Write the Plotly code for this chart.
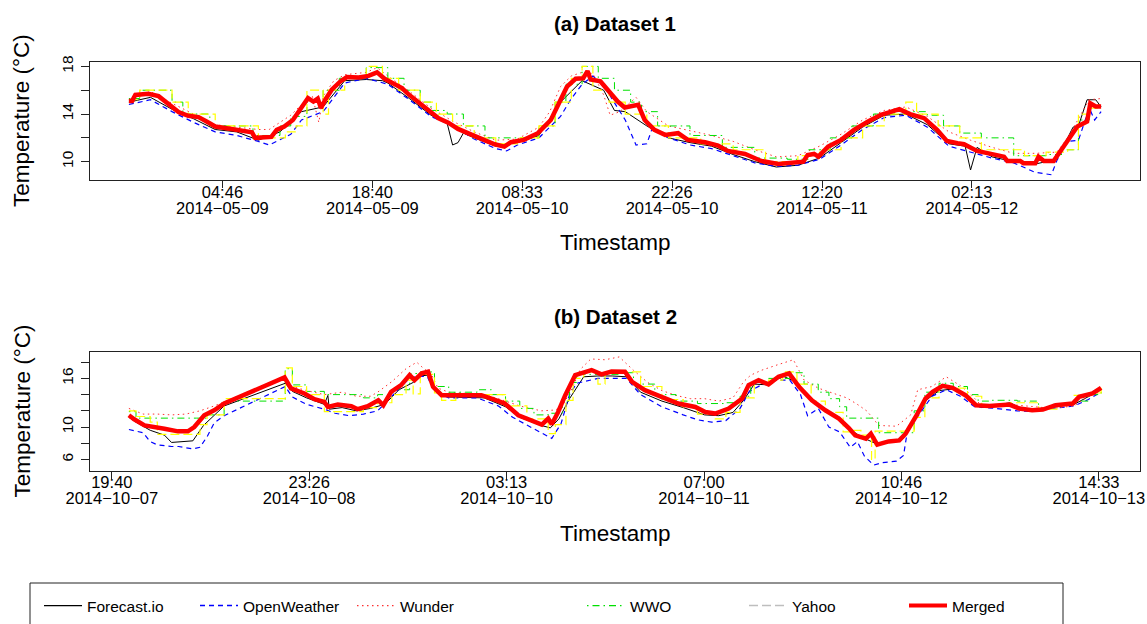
import pandas as pd
import plotly.graph_objects as go

FONT = "Liberation Sans, Arial, Helvetica, sans-serif"
W, H = 1147, 624

# ---------------- Dataset 1 (May 2014) ----------------
d1_start = "2014-05-08 20:06"

d1_merged_h = [0, 0.3, 0.6, 1.8, 2.75, 3.7, 4.6, 5.5, 6.45, 7.2, 8.0, 9.5, 11.4, 11.7, 13.2, 13.7,
               14.4, 15.2, 16.0, 16.6, 17.1, 17.5, 17.8, 18.2, 18.8, 19.6, 20.2, 21.3, 22.2, 23.0,
               23.7, 24.5, 25.3, 25.9, 26.8, 27.7, 28.7, 29.6, 30.5, 31.8, 33.0, 33.9, 34.8, 35.4,
               36.6, 37.9, 39.1, 39.9, 40.6, 41.4, 42.1, 42.5, 42.8, 43.7, 44.7, 45.3, 45.95, 47.2,
               47.8, 48.7, 49.7, 50.9, 51.8, 53.4, 54.6, 55.5, 57.1, 58.6, 60.2, 61.4, 62.5, 62.9,
               63.5, 63.9, 64.8, 66.0, 67.2, 68.5, 69.7, 70.9, 71.4, 72.4, 73.7, 74.9, 75.8, 76.8,
               77.4, 78.6, 80.1, 81.1, 81.4, 82.6, 82.9, 84.0, 84.3, 84.8, 85.7, 86.3, 87.3, 87.9,
               88.8, 89.1, 89.6, 90.1]
d1_merged_t = [15.1, 15.1, 15.6, 15.7, 15.5, 14.8, 14.16, 13.85, 13.74, 13.37, 12.95, 12.75, 12.47, 12.0,
               12.08, 12.67, 12.95, 13.5, 14.5, 15.34, 15.05, 15.3, 14.5, 15.2, 16.04, 16.74, 17.1, 17.07,
               17.2, 17.5, 16.96, 16.6, 16.18, 15.67, 15.05, 14.35, 13.65, 13.28, 12.75, 12.25, 11.83,
               11.46, 11.26, 11.63, 11.83, 12.39, 13.5, 15.05, 16.3, 16.96, 17.0, 17.6, 16.9, 16.74, 15.6,
               15.05, 14.55, 14.77, 13.5, 12.67, 12.25, 12.39, 11.83, 11.63, 11.35, 10.9, 10.65, 10.06,
               9.8, 9.86, 10.0, 10.56, 10.65, 10.42, 11.26, 11.83, 12.67, 13.37, 13.93, 14.27, 14.41,
               13.99, 13.65, 12.67, 11.74, 11.55, 11.46, 10.9, 10.62, 10.42, 10.06, 10.06, 9.87, 9.87,
               10.42, 10.06, 10.06, 10.84, 12.25, 12.95, 13.37, 14.9, 14.63, 14.63]

d1_forecast_h = [0, 2, 4, 6, 8, 10, 12, 14, 16, 18, 20, 22, 23.5, 24, 26, 28, 29.5, 30, 30.5, 31, 32, 34,
                 36, 38, 40, 42, 44, 45, 46, 48, 50, 52, 54, 56, 58, 60, 62, 64, 66, 68, 70, 72, 74, 76,
                 77.5, 78, 78.6, 80, 82, 84, 86, 87.5, 88, 88.8, 89.6, 90.1]
d1_forecast_t = [15.0, 15.4, 14.4, 13.6, 12.7, 12.5, 11.8, 12.5, 14.2, 14.6, 16.8, 16.9, 16.8, 16.6, 15.3,
                 13.9, 13.2, 11.4, 11.6, 12.4, 12.0, 11.3, 11.6, 12.2, 15.0, 16.8, 16.0, 14.3, 14.2, 13.0,
                 12.0, 11.6, 11.3, 10.6, 10.0, 9.55, 9.7, 10.3, 11.6, 12.9, 13.9, 14.0, 13.1, 11.5, 11.3,
                 9.3, 11.2, 10.4, 10.0, 9.8, 10.2, 12.9, 13.0, 15.2, 15.2, 14.6]

d1_openw_h = [0, 2, 4, 6, 8, 10, 12, 13, 15, 16, 18, 20, 22, 24, 26, 28, 30, 32, 34, 35, 36, 38, 40, 41,
              42, 43, 44, 45, 46, 47, 48, 48.5, 50, 52, 54, 56, 58, 60, 62, 64, 66, 68, 70, 72, 74, 76,
              78, 80, 82, 84, 85.5, 86, 87, 88, 89, 89.5, 90.1]
d1_openw_t = [14.8, 15.2, 14.2, 13.3, 12.5, 12.2, 11.7, 11.4, 12.3, 13.5, 14.2, 16.6, 17.0, 16.5, 15.2,
              13.8, 13.0, 11.9, 11.1, 10.9, 11.4, 12.0, 13.8, 15.3, 16.5, 17.2, 16.4, 15.0, 13.5, 11.4,
              11.5, 12.8, 12.0, 11.4, 11.1, 10.5, 9.9, 9.6, 9.7, 10.2, 11.4, 12.7, 13.7, 13.9, 12.9, 11.3,
              10.8, 10.3, 9.9, 9.1, 8.9, 10.1, 11.7, 11.8, 14.5, 13.5, 14.2]

d1_wunder_h = [0, 2, 4, 6, 8, 10, 12, 13, 14, 15, 16, 17, 17.6, 18, 19, 20, 22, 23, 24, 26, 28, 30, 32,
               34, 36, 38, 39, 40, 41, 42, 43, 44, 44.6, 45.5, 47, 48, 50, 52, 54, 56, 58, 60, 62, 64,
               66, 68, 70, 72, 74, 76, 78, 80, 82, 84, 86, 87, 88, 89, 90.1]
d1_wunder_t = [15.2, 15.9, 14.9, 14.0, 13.1, 12.9, 12.7, 12.7, 13.3, 13.9, 14.8, 15.5, 13.3, 15.5, 16.8,
               17.3, 17.5, 17.9, 17.2, 15.9, 14.5, 13.4, 12.5, 11.8, 11.9, 12.9, 14.2, 16.3, 17.2, 17.5,
               17.4, 15.6, 13.9, 14.2, 15.4, 14.2, 13.0, 12.6, 12.2, 11.7, 11.0, 10.4, 10.5, 11.3, 12.3,
               13.5, 14.3, 14.6, 13.8, 12.5, 11.8, 11.2, 10.7, 10.7, 10.8, 12.0, 13.6, 15.2, 15.3]

d1_wwo_h = [0, 1, 4, 5, 7.5, 11.5, 14, 15, 16.5, 18, 19.5, 22, 24, 25.5, 27, 28, 29.5, 31, 33, 36, 38,
            39.5, 40.5, 42, 43.5, 45, 46.5, 47.5, 49, 52, 55, 58, 61, 63, 65, 67, 69, 71, 74, 75.5, 77,
            79, 82, 85, 86.5, 88, 89, 90.1]
d1_wwo_t = [15.3, 16.0, 15.0, 14.0, 13.0, 12.2, 13.0, 13.8, 15.0, 16.0, 17.0, 17.9, 17.0, 16.0, 15.0,
            14.3, 14.0, 13.0, 12.0, 12.0, 13.0, 15.0, 16.5, 18.0, 17.0, 16.0, 15.0, 14.2, 13.0, 12.2,
            11.2, 10.3, 10.2, 11.0, 12.0, 13.0, 14.0, 14.2, 13.9, 13.0, 12.4, 12.0, 10.5, 10.6, 11.0,
            13.5, 14.8, 14.8]

d1_yahoo_h = [0, 1, 4, 5.5, 8, 12, 14.5, 15.5, 16.5, 18, 18.5, 20, 22, 23.5, 25, 27, 28.5, 30, 32, 34,
              36, 38, 39.5, 41, 42, 43, 44.5, 46, 48, 50, 53, 56, 59, 62, 64, 66, 68, 70, 72, 73, 75,
              77, 79, 83, 85, 87, 88, 89, 90.1]
d1_yahoo_t = [15.2, 16.0, 15.0, 14.0, 13.0, 12.0, 12.5, 13.0, 16.0, 14.0, 16.0, 17.0, 18.0, 17.0, 16.0,
              15.0, 14.0, 13.0, 12.0, 11.5, 12.0, 13.0, 15.0, 17.0, 18.0, 16.0, 15.0, 14.0, 13.0, 12.0,
              11.5, 11.0, 10.0, 10.5, 11.0, 12.0, 13.0, 14.0, 15.0, 14.0, 13.0, 12.0, 11.0, 10.5, 10.8,
              11.0, 14.0, 14.5, 14.5]

d1_tick_times = ["2014-05-09 04:46", "2014-05-09 18:40", "2014-05-10 08:33",
                 "2014-05-10 22:26", "2014-05-11 12:20", "2014-05-12 02:13"]

# ---------------- Dataset 2 (October 2014) ----------------
d2_start = "2014-10-07 22:04"

d2_merged_h = [0, 0.75, 2.2, 4.0, 5.0, 6.9, 8.3, 9.2, 10.6, 12.0, 13.4, 21.9, 22.8, 24.7, 26.1, 27.5,
               28.0, 29.4, 31.3, 32.2, 33.6, 35.1, 35.8, 36.9, 38.3, 39.5, 40.2, 41.2, 42.1, 42.8, 44.0,
               46.3, 49.6, 51.0, 52.9, 54.8, 56.7, 58.1, 59.0, 59.5, 60.4, 61.4, 62.8, 64.2, 65.1, 66.5,
               67.9, 69.8, 70.8, 72.6, 75.0, 77.3, 79.7, 81.1, 82.5, 84.4, 86.3, 87.2, 88.6, 90.0, 91.4,
               92.9, 94.3, 96.1, 98.0, 99.9, 101.3, 102.2, 103.7, 104.4, 105.3, 106.9, 108.4, 109.3,
               110.7, 112.1, 113.1, 114.5, 115.9, 117.7, 119.2, 121.1, 123.9, 125.3, 127.1, 128.6,
               130.4, 132.8, 133.7, 135.6, 136.8]
d2_merged_t = [11.45, 10.96, 10.2, 10.0, 9.8, 9.47, 9.47, 10.0, 11.45, 12.07, 12.9, 16.12, 14.76, 14.14,
               13.43, 13.1, 12.48, 12.77, 12.57, 12.2, 12.57, 13.31, 12.69, 14.34, 15.17, 16.41, 15.79,
               16.62, 16.82, 14.96, 13.93, 13.93, 13.93, 13.52, 12.9, 11.45, 10.83, 10.3, 11.04, 10.34,
               11.86, 13.93, 16.41, 16.82, 17.03, 16.49, 16.85, 16.82, 15.58, 14.55, 13.72, 12.9, 12.48,
               11.86, 11.66, 12.28, 13.52, 15.17, 15.79, 15.26, 16.2, 16.62, 14.96, 13.31, 12.07, 11.04,
               9.88, 8.97, 8.56, 9.18, 7.82, 8.23, 8.35, 9.18, 11.24, 13.52, 14.34, 15.08, 14.84, 13.93,
               12.69, 12.6, 12.77, 12.28, 12.07, 12.16, 12.69, 12.9, 13.72, 14.14, 14.84]

d2_forecast_h = [0, 1, 3, 5, 6, 9, 10.5, 12, 13.4, 22, 23, 25, 27.5, 28, 28.2, 30, 32, 34, 36, 38, 40,
                 41, 42, 43, 45, 50, 53, 55, 58, 59.3, 60.5, 62, 64, 66, 68, 70, 72, 75, 78, 81, 83, 85,
                 86.5, 88, 90, 92, 94, 96, 98, 100, 101.5, 103, 105, 107, 109, 110.5, 112, 114, 116, 118,
                 120, 124, 125.5, 128, 131, 133, 135, 136.8]
d2_forecast_t = [11.2, 10.6, 9.6, 9.0, 8.1, 8.3, 10.2, 11.4, 12.6, 15.4, 14.4, 13.6, 12.8, 13.9, 12.2,
                 12.4, 12.0, 12.3, 12.8, 14.6, 15.5, 16.3, 16.4, 14.5, 13.7, 13.6, 12.5, 11.2, 10.2, 9.9,
                 11.0, 13.5, 16.2, 16.3, 16.3, 16.2, 14.3, 13.2, 12.4, 11.5, 11.4, 11.8, 13.3, 15.3, 15.2,
                 16.3, 15.5, 13.5, 12.0, 11.2, 9.7, 8.8, 8.0, 8.2, 8.6, 11.0, 13.2, 14.5, 14.7, 13.7, 12.4,
                 13.0, 12.3, 12.1, 12.6, 12.8, 13.8, 14.6]

d2_openw_h = [0, 2, 3, 4, 6, 7, 9, 10, 11, 12, 13.4, 22, 23, 25, 27.5, 29, 31, 33, 35, 37, 39, 40.5, 42,
              43, 45, 49, 52, 54, 56, 58, 59.5, 60.8, 62, 63, 66, 70, 72, 75, 78, 80, 82, 84, 86, 87.3,
              89, 91, 93, 94.5, 95.5, 97, 98.5, 100, 101.5, 102.5, 103.5, 104.8, 106, 108, 109, 109.6,
              111, 113, 115, 117, 119, 122, 125, 127, 130, 133, 135, 136.8]
d2_openw_t = [9.7, 9.3, 8.2, 7.8, 7.6, 7.6, 7.3, 7.5, 8.8, 10.5, 11.4, 15.0, 13.7, 12.8, 12.2, 11.7,
              11.4, 11.6, 12.0, 13.8, 15.6, 16.3, 16.2, 14.4, 13.6, 13.6, 12.6, 11.2, 10.2, 9.3, 8.6,
              10.4, 14.0, 15.4, 16.0, 16.0, 14.0, 12.5, 11.5, 10.9, 10.6, 10.8, 12.3, 14.4, 15.2, 15.8,
              15.8, 14.0, 11.4, 12.3, 10.0, 9.4, 7.5, 8.2, 6.4, 5.3, 5.6, 5.8, 6.5, 9.8, 11.3, 13.8,
              14.6, 13.8, 12.5, 12.3, 12.0, 11.9, 12.3, 12.6, 13.4, 14.3]

d2_wunder_h = [0, 2, 4, 6, 8, 10, 12, 13.4, 22, 23, 25, 27.5, 30, 32, 34, 35, 37, 39, 40.5, 41.5, 42.5,
               43.5, 45, 50, 52, 55, 58, 60, 61, 62.5, 63.5, 65, 67, 69, 71, 73, 75, 77, 79, 81, 83, 85,
               86.5, 87.5, 89, 91, 93.5, 95, 97, 99, 101, 102.5, 103.8, 104.3, 105.5, 108, 110, 111, 113,
               115, 117, 118.5, 120, 125, 130, 133, 135, 136.8]
d2_wunder_t = [12.3, 11.6, 11.6, 11.5, 11.6, 12.0, 12.6, 13.1, 16.2, 15.0, 14.5, 14.0, 14.3, 13.8, 13.8,
               14.3, 15.6, 17.2, 18.0, 17.2, 16.6, 14.8, 14.3, 14.0, 13.5, 12.6, 12.0, 12.1, 12.6, 15.0,
               17.1, 18.4, 18.3, 18.65, 17.0, 15.5, 14.5, 13.9, 13.5, 13.5, 13.2, 13.6, 15.6, 16.4, 17.0,
               17.6, 18.3, 15.8, 14.8, 14.2, 13.6, 12.8, 12.0, 11.5, 10.2, 10.1, 11.5, 14.6, 15.0, 16.2,
               15.1, 14.0, 12.6, 12.7, 12.3, 12.6, 13.8, 14.7]

d2_wwo_h = [0, 1, 9.5, 11, 13.4, 22, 23, 25, 27.5, 31, 33, 35, 37, 39.5, 41, 43, 45, 49, 51, 53, 55,
            57, 59, 61, 62, 63, 69, 71, 74, 77, 80, 84, 86, 87.5, 90, 93, 95, 97, 98.5, 100, 101, 105.5,
            109, 110.5, 112, 114, 116, 118, 119.5, 121, 125, 128, 130, 133, 135, 136.8]
d2_wwo_t = [11.9, 11.1, 11.1, 11.5, 13.2, 17.2, 15.2, 14.4, 14.0, 14.0, 13.6, 14.0, 14.6, 16.6, 16.8,
            15.0, 14.3, 14.6, 14.0, 13.2, 12.3, 11.5, 11.7, 13.2, 15.5, 16.5, 16.7, 15.3, 14.0, 13.2,
            12.9, 13.0, 13.8, 15.5, 16.0, 16.7, 15.3, 14.3, 13.5, 12.5, 11.1, 9.3, 9.3, 12.0, 14.3, 15.4,
            15.0, 14.0, 13.2, 13.3, 13.2, 12.3, 12.8, 13.2, 14.0, 14.8]

d2_yahoo_h = [0, 1, 3, 4, 10, 11, 13.4, 22, 23, 25, 27.5, 33, 35, 37, 39, 40, 41, 43, 44, 46, 50, 53,
              56, 59, 60, 61.5, 62.5, 64, 66, 67, 70, 72, 75, 78, 80, 82.5, 84, 86, 88, 90, 92, 94, 96,
              98, 100.5, 102, 103, 104.5, 105, 109, 110.5, 112, 114, 116, 118, 120, 124, 128, 131, 133,
              135, 136.8]
d2_yahoo_t = [12.0, 11.3, 10.6, 9.1, 10.3, 11.5, 13.5, 17.3, 15.0, 14.0, 11.9, 12.4, 13.0, 14.0, 15.8,
              14.1, 16.5, 14.2, 13.3, 14.0, 14.0, 12.6, 11.0, 9.2, 10.3, 13.3, 16.0, 16.8, 15.3, 16.7,
              16.8, 15.0, 13.4, 12.5, 11.6, 11.0, 11.8, 13.6, 15.5, 15.8, 16.8, 15.3, 13.2, 11.8, 9.4,
              9.6, 9.0, 6.0, 9.5, 9.5, 11.2, 13.6, 15.0, 14.8, 13.8, 12.7, 13.0, 12.2, 12.9, 13.9, 14.2,
              14.9]

d2_tick_times = ["2014-10-07 19:40", "2014-10-08 23:26", "2014-10-10 03:13",
                 "2014-10-11 07:00", "2014-10-12 10:46", "2014-10-13 14:33"]

# ---------------- Styling ----------------
SERIES = [
    # name, colour in plot, legend colour, width, dash, line shape
    ("Forecast.io", "#000000", "#000000", 1.0, "solid", "linear"),
    ("OpenWeather", "#0000FF", "#0000FF", 1.2, "5px,4px", "linear"),
    ("Wunder", "#FF3030", "#FF3030", 1.0, "1.5px,3.5px", "linear"),
    ("WWO", "#00E000", "#00E000", 1.0, "1.5px,4px,7px,4px", "hv"),
    ("Yahoo", "#FFFF00", "#BEBEBE", 1.2, "9px,4px", "hv"),
    ("Merged", "#FF0000", "#FF0000", 4.5, "solid", "linear"),
]

panels = [
    dict(start=d1_start, ticks=d1_tick_times, yr=[8.46, 18.37],
         ytv=[10, 12, 14, 16, 18], ytt=["10", "", "14", "", "18"],
         data=[(d1_forecast_h, d1_forecast_t), (d1_openw_h, d1_openw_t), (d1_wunder_h, d1_wunder_t),
               (d1_wwo_h, d1_wwo_t), (d1_yahoo_h, d1_yahoo_t), (d1_merged_h, d1_merged_t)],
         top=62, bottom=180, title="<b>(a) Dataset 1</b>", title_y=24, xlab_y=243),
    dict(start=d2_start, ticks=d2_tick_times, yr=[4.64, 19.22],
         ytv=[6, 8, 10, 12, 14, 16, 18], ytt=["6", "", "10", "", "", "16", ""],
         data=[(d2_forecast_h, d2_forecast_t), (d2_openw_h, d2_openw_t), (d2_wunder_h, d2_wunder_t),
               (d2_wwo_h, d2_wwo_t), (d2_yahoo_h, d2_yahoo_t), (d2_merged_h, d2_merged_t)],
         top=352.3, bottom=470.5, title="<b>(b) Dataset 2</b>", title_y=316, xlab_y=533),
]


def to_times(start, hours):
    return pd.Timestamp(start) + pd.to_timedelta(hours, unit="h")


fig = go.Figure()
layout = dict(
    width=W, height=H, margin=dict(l=0, r=0, t=0, b=0, autoexpand=False),
    paper_bgcolor="white", plot_bgcolor="white",
    font=dict(family=FONT, color="black"),
    annotations=[], shapes=[],
)

X0, X1 = 90 / W, 1140 / W
TICKFONT = dict(family=FONT, size=16.5, color="black")

for p_i, p in enumerate(panels):
    k = p_i + 1
    xa, ya = f"x{'' if k == 1 else k}", f"y{'' if k == 1 else k}"
    xa_time, xa_date = f"x{k + 2}", f"x{k + 4}"
    ydom = [1 - p["bottom"] / H, 1 - p["top"] / H]

    for s_i, (name, col, lcol, lw, dash, shape) in enumerate(SERIES):
        hrs, vals = p["data"][s_i]
        fig.add_trace(go.Scatter(
            x=to_times(p["start"], hrs), y=vals, mode="lines", name=name,
            line=dict(color=col, width=lw, dash=dash, shape=shape),
            xaxis=xa, yaxis=ya, showlegend=False, hoverinfo="skip"))

    # x range: data span widened by 4% on each side
    mt = to_times(p["start"], p["data"][5][0])
    span = mt.max() - mt.min()
    xr = [mt.min() - 0.04 * span, mt.max() + 0.04 * span]

    tick_ts = pd.to_datetime(p["ticks"])
    time_txt = [t.strftime("%H:%M") for t in tick_ts]
    date_txt = [t.strftime("%Y-%m-%d").replace("-", "\u2212") for t in tick_ts]

    # carriers for the two label rows
    for ax in (xa_time, xa_date):
        fig.add_trace(go.Scatter(x=list(tick_ts), y=[None] * len(tick_ts), mode="lines",
                                 xaxis=ax, yaxis=ya, showlegend=False, hoverinfo="skip"))

    base = dict(type="date", range=xr, showgrid=False, zeroline=False, automargin=False)
    layout[f"xaxis{'' if k == 1 else k}"] = dict(
        base, domain=[X0, X1], anchor=ya, showline=True, mirror=True, linecolor="#222222",
        linewidth=1, ticks="outside", ticklen=7, tickwidth=1, tickcolor="#222222",
        tickvals=list(tick_ts), showticklabels=False)
    layout[f"xaxis{k + 2}"] = dict(
        base, overlaying=xa, anchor=ya, showline=False, ticks="", tickvals=list(tick_ts),
        ticktext=time_txt, tickfont=TICKFONT, ticklabelstandoff=0)
    layout[f"xaxis{k + 4}"] = dict(
        base, overlaying=xa, anchor=ya, showline=False, ticks="", tickvals=list(tick_ts),
        ticktext=date_txt, tickfont=TICKFONT, ticklabelstandoff=16)
    layout[f"yaxis{'' if k == 1 else k}"] = dict(
        domain=ydom, anchor=xa, range=p["yr"], showgrid=False, zeroline=False, automargin=False,
        showline=True, mirror=True, linecolor="#222222", linewidth=1,
        ticks="outside", ticklen=8, tickwidth=1, tickcolor="#222222",
        tickvals=p["ytv"], ticktext=p["ytt"], tickangle=-90,
        tickfont=dict(family=FONT, size=15.5, color="black"), ticklabelstandoff=2)

    cx = (90 + 1140) / 2 / W
    layout["annotations"] += [
        dict(text=p["title"], x=cx, y=1 - p["title_y"] / H, xref="paper", yref="paper",
             showarrow=False, xanchor="center", yanchor="middle", font=dict(size=20.5)),
        dict(text="Timestamp", x=cx, y=1 - p["xlab_y"] / H, xref="paper", yref="paper",
             showarrow=False, xanchor="center", yanchor="middle", font=dict(size=22.5)),
        dict(text="Temperature (°C)", x=22 / W, y=1 - (p["top"] + p["bottom"]) / 2 / H,
             xref="paper", yref="paper", showarrow=False, textangle=-90,
             xanchor="center", yanchor="middle", font=dict(size=22.5)),
    ]

# ---------------- Legend: one box, six entries ----------------
legend_x = [45, 201, 358, 588, 750, 910]
for s_i, (name, col, lcol, lw, dash, shape) in enumerate(SERIES):
    key = "legend" if s_i == 0 else f"legend{s_i + 1}"
    fig.add_trace(go.Scatter(x=[None], y=[None], mode="lines", name=name,
                             line=dict(color=lcol, width=min(lw, 4) if name == "Merged" else lw + 0.3,
                                       dash=dash),
                             legend=key, showlegend=True, hoverinfo="skip"))
    layout[key] = dict(x=(legend_x[s_i] - 6) / W, y=1 - 606 / H, xanchor="left", yanchor="middle",
                       orientation="h", bgcolor="rgba(0,0,0,0)", borderwidth=0,
                       font=dict(family=FONT, size=15.5, color="black"), itemwidth=38)

layout["shapes"].append(dict(type="rect", xref="paper", yref="paper",
                             x0=30 / W, x1=1063 / W, y0=1 - 583 / H, y1=-0.2,
                             line=dict(color="#222222", width=1), fillcolor="rgba(0,0,0,0)"))

fig.update_layout(**layout)
fig.write_html("out.html")
